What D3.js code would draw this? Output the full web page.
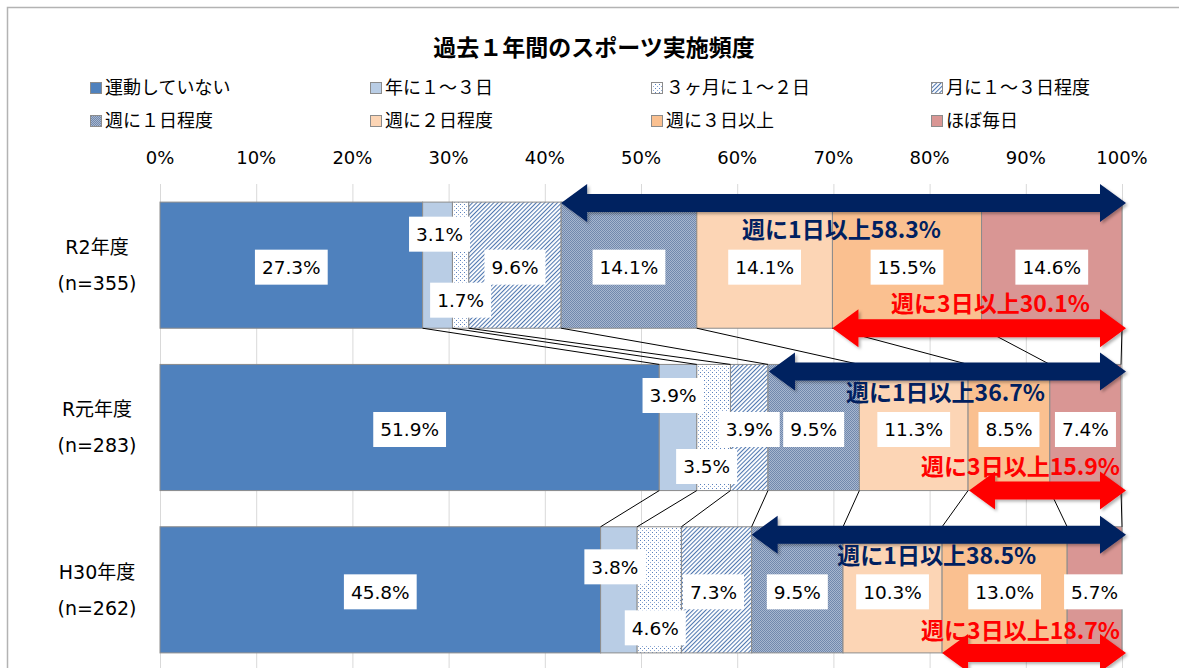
<!DOCTYPE html>
<html lang="ja">
<head>
<meta charset="UTF-8">
<title>過去１年間のスポーツ実施頻度</title>
<script src="https://cdn.jsdelivr.net/npm/d3@7/dist/d3.min.js"></script>
<style>
  body { margin: 0; background: #fff; }
  svg { display: block; }
  text { font-family: "DejaVu Sans", "Noto Sans CJK JP", sans-serif; }
  .jp { font-family: "Noto Sans CJK JP", sans-serif; }
</style>
</head>
<body>
<svg id="chart" width="1179" height="668"></svg>
<script>
// ---- data ----
const categories = ["R2年度", "R元年度", "H30年度"];
const sampleSizes = ["(n=355)", "(n=283)", "(n=262)"];
const seriesNames = ["運動していない", "年に１～３日", "３ヶ月に１～２日", "月に１～３日程度",
                     "週に１日程度", "週に２日程度", "週に３日以上", "ほぼ毎日"];
const valuesR2  = [27.3, 3.1, 1.7, 9.6, 14.1, 14.1, 15.5, 14.6];
const valuesR1  = [51.9, 3.9, 3.5, 3.9, 9.5, 11.3, 8.5, 7.4];
const valuesH30 = [45.8, 3.8, 4.6, 7.3, 9.5, 10.3, 13.0, 5.7];
const weeklyOnceOrMore  = [58.3, 36.7, 38.5];
const weeklyThreeOrMore = [30.1, 15.9, 18.7];
const tickValues = [0, 10, 20, 30, 40, 50, 60, 70, 80, 90, 100];

const allValues = [valuesR2, valuesR1, valuesH30];

// ---- layout ----
const svg = d3.select("#chart");
const x = d3.scaleLinear().domain([0, 100]).range([160, 1122]);
const y = d3.scaleBand().domain(categories).range([184, 671])
  .paddingInner(0.223).paddingOuter(0.1115);
const bh = y.bandwidth();

// label nudges for small segments [category][series] -> [dx, dy]
const labelNudge = [
  [[0,0],[2,-33],[0,33],[0,0],[0,0],[0,0],[0,0],[0,0]],
  [[0,0],[-5,-34],[-7,37],[0,0],[0,0],[0,0],[0,0],[0,0]],
  [[0,0],[-4,-25],[-4,36],[-3,0],[0,0],[0,0],[0,0],[0,0]]
];
const navyOffset = [1, 7, 8];        // arrow centre below bar top
const navyTextDy = [27, 21, 21];
const redTextX = [1090, 1120, 1120];  // right end of red label
const redTextDy = [-25, -24, -22];

// ---- patterns ----
const defs = svg.append("defs");
const dots = defs.append("pattern").attr("id", "dots")
  .attr("width", 4).attr("height", 4).attr("patternUnits", "userSpaceOnUse");
dots.append("rect").attr("width", 4).attr("height", 4).attr("fill", "#fff");
dots.append("rect").attr("x", 0).attr("y", 0).attr("width", 1).attr("height", 1).attr("fill", "#5a80bd");
dots.append("rect").attr("x", 2).attr("y", 2).attr("width", 1).attr("height", 1).attr("fill", "#8fa9d3");

const hatch = defs.append("pattern").attr("id", "hatch")
  .attr("width", 3).attr("height", 3).attr("patternUnits", "userSpaceOnUse")
  .attr("patternTransform", "rotate(45)");
hatch.append("rect").attr("width", 3).attr("height", 3).attr("fill", "#fff");
hatch.append("line").attr("x1", 0.5).attr("y1", 0).attr("x2", 0.5).attr("y2", 3)
  .attr("stroke", "#4f77b0").attr("stroke-width", 1.1);

const mesh = defs.append("pattern").attr("id", "mesh")
  .attr("width", 2).attr("height", 2).attr("patternUnits", "userSpaceOnUse");
mesh.append("rect").attr("width", 2).attr("height", 2).attr("fill", "#a7b6cf");
mesh.append("rect").attr("width", 1).attr("height", 1).attr("fill", "#7189ad");
mesh.append("rect").attr("x", 1).attr("y", 1).attr("width", 1).attr("height", 1).attr("fill", "#7189ad");

const shadow = defs.append("filter").attr("id", "shadow")
  .attr("x", "-5%").attr("y", "-50%").attr("width", "110%").attr("height", "200%");
shadow.append("feDropShadow").attr("dx", 2).attr("dy", 2).attr("stdDeviation", 1.5)
  .attr("flood-color", "#000").attr("flood-opacity", 0.3);

const fills = ["#4f81bd", "#b9cde5", "url(#dots)", "url(#hatch)",
               "url(#mesh)", "#fcd5b5", "#fac090", "#d99694"];

// ---- frame ----
svg.append("rect").attr("x", 7.5).attr("y", 7.5).attr("width", 1200).attr("height", 700)
  .attr("fill", "none").attr("stroke", "#b3b3b3").attr("stroke-width", 1.5);

// ---- title ----
svg.append("text").attr("class", "jp").attr("x", 594).attr("y", 56)
  .attr("text-anchor", "middle").attr("font-size", 23).attr("font-weight", "bold")
  .attr("fill", "#000").text("過去１年間のスポーツ実施頻度");

// ---- legend ----
const legendCols = [90, 370, 651, 931];
const legendRows = [88, 121];
const legend = svg.append("g").selectAll("g").data(seriesNames).join("g")
  .attr("transform", (d, i) => `translate(${legendCols[i % 4]},${legendRows[Math.floor(i / 4)]})`);
legend.append("rect").attr("x", 0.5).attr("y", -5.5).attr("width", 11).attr("height", 11)
  .attr("fill", (d, i) => fills[i]).attr("stroke", "#8c8c8c").attr("stroke-width", 1);
legend.append("text").attr("class", "jp").attr("x", 15).attr("dy", "0.36em")
  .attr("font-size", 18).attr("fill", "#000").text(d => d);

// ---- grid + ticks ----
svg.append("g").selectAll("line").data(tickValues).join("line")
  .attr("x1", d => x(d) + 0.5).attr("x2", d => x(d) + 0.5)
  .attr("y1", 184).attr("y2", 672)
  .attr("stroke", "#d9d9d9").attr("stroke-width", 1);

svg.append("g").selectAll("text").data(tickValues).join("text")
  .attr("x", d => x(d)).attr("y", 164).attr("text-anchor", "middle")
  .attr("font-size", 18).attr("fill", "#000").text(d => d + "%");

// ---- category labels ----
const cat = svg.append("g").selectAll("g").data(categories).join("g");
cat.append("text").attr("x", 97).attr("y", d => y(d) + bh / 2 - 18).attr("dy", "0.36em")
  .attr("text-anchor", "middle").attr("font-size", 19).text(d => d);
cat.append("text").attr("x", 97).attr("y", d => y(d) + bh / 2 + 18).attr("dy", "0.36em")
  .attr("text-anchor", "middle").attr("font-size", 19).text((d, i) => sampleSizes[i]);

// ---- stacked segments ----
const rows = categories.map((c, ci) => {
  let acc = 0;
  return allValues[ci].map((v, si) => {
    const seg = { ci, si, cat: c, v, x0: acc, x1: acc + v };
    acc += v;
    return seg;
  });
});

svg.append("g").selectAll("g").data(rows).join("g")
  .selectAll("rect").data(d => d).join("rect")
  .attr("x", d => x(d.x0)).attr("width", d => x(d.x1) - x(d.x0))
  .attr("y", d => y(d.cat)).attr("height", bh)
  .attr("fill", d => fills[d.si])
  .attr("stroke", "#8c8c8c").attr("stroke-width", 1);

// ---- series lines ----
const sLines = [];
for (let ci = 0; ci < rows.length - 1; ci++) {
  rows[ci].forEach((seg, si) => {
    sLines.push({ xa: x(seg.x1), ya: y(categories[ci]) + bh, xb: x(rows[ci + 1][si].x1), yb: y(categories[ci + 1]) });
  });
}
svg.append("g").selectAll("line").data(sLines).join("line")
  .attr("x1", d => d.xa).attr("y1", d => d.ya).attr("x2", d => d.xb).attr("y2", d => d.yb)
  .attr("stroke", "#000").attr("stroke-width", 1);

// ---- value labels ----
const labels = svg.append("g").selectAll("g").data(rows.flat()).join("g")
  .attr("transform", d => {
    const n = labelNudge[d.ci][d.si];
    return `translate(${(x(d.x0) + x(d.x1)) / 2 + n[0]},${y(d.cat) + bh / 2 + 2 + n[1]})`;
  });
labels.append("text").attr("text-anchor", "middle").attr("dy", "0.36em")
  .attr("font-size", 18.5).attr("fill", "#000").text(d => d.v.toFixed(1) + "%");
labels.each(function() {
  const g = d3.select(this);
  const bb = g.select("text").node().getBBox();
  g.insert("rect", "text").attr("x", bb.x - 7).attr("y", -17.5)
    .attr("width", bb.width + 14).attr("height", 35).attr("fill", "#fff");
});

// ---- arrows ----
function arrowPath(x1, x2, yc) {
  const hl = 26, hh = 19, sh = 9;
  return `M${x1},${yc}L${x1 + hl},${yc - hh}L${x1 + hl},${yc - sh}L${x2 - hl},${yc - sh}` +
         `L${x2 - hl},${yc - hh}L${x2},${yc}L${x2 - hl},${yc + hh}L${x2 - hl},${yc + sh}` +
         `L${x1 + hl},${yc + sh}L${x1 + hl},${yc + hh}Z`;
}

const arrows = svg.append("g");
categories.forEach((c, ci) => {
  const top = y(c), bottom = y(c) + bh;
  const nx1 = x(100 - weeklyOnceOrMore[ci]), rx1 = x(100 - weeklyThreeOrMore[ci]), x2 = x(100) + 4;
  const ny = top + navyOffset[ci];
  arrows.append("path").attr("d", arrowPath(nx1, x2, ny))
    .attr("fill", "#002060").attr("filter", "url(#shadow)");
  arrows.append("path").attr("d", arrowPath(rx1, x2, bottom))
    .attr("fill", "#ff0000").attr("filter", "url(#shadow)");
  arrows.append("text").attr("class", "jp")
    .attr("x", (nx1 + x(100)) / 2).attr("y", ny + navyTextDy[ci]).attr("dy", "0.36em")
    .attr("text-anchor", "middle").attr("font-size", 23).attr("font-weight", "bold")
    .attr("fill", "#002060").text("週に1日以上" + weeklyOnceOrMore[ci].toFixed(1) + "%");
  arrows.append("text").attr("class", "jp")
    .attr("x", redTextX[ci]).attr("y", bottom + redTextDy[ci]).attr("dy", "0.36em")
    .attr("text-anchor", "end").attr("font-size", 23).attr("font-weight", "bold")
    .attr("fill", "#ff0000").text("週に3日以上" + weeklyThreeOrMore[ci].toFixed(1) + "%");
});
</script>
</body>
</html>
